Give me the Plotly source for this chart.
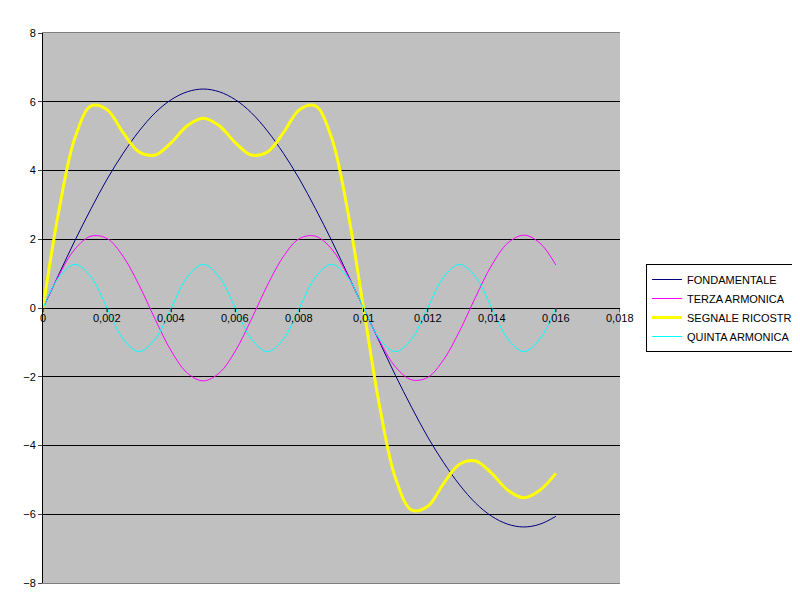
import plotly.graph_objects as go

t = [i * 0.0005 for i in range(33)]
fondamentale = [0,0.99,1.97,2.89,3.75,4.50,5.15,5.68,6.06,6.29,6.37,6.29,6.06,5.68,5.15,4.50,3.75,2.89,1.97,0.99,0,-0.99,-1.97,-2.89,-3.75,-4.50,-5.15,-5.68,-6.06,-6.29,-6.37,-6.29,-6.06]
terza = [0,0.96,1.72,2.09,2.02,1.50,0.66,-0.33,-1.25,-1.89,-2.12,-1.89,-1.25,-0.33,0.66,1.50,2.02,2.09,1.72,0.96,0,-0.96,-1.72,-2.09,-2.02,-1.50,-0.66,0.33,1.25,1.89,2.12,1.89,1.25]
segnale = [0,2.85,4.96,5.88,5.77,5.10,4.54,4.45,4.81,5.30,5.52,5.30,4.81,4.45,4.54,5.10,5.77,5.88,4.96,2.85,0,-2.85,-4.96,-5.88,-5.77,-5.10,-4.54,-4.45,-4.81,-5.30,-5.52,-5.30,-4.81]
quinta = [0,0.90,1.27,0.90,0,-0.90,-1.27,-0.90]*4 + [0]
xticks = [0,0.002,0.004,0.006,0.008,0.01,0.012,0.014,0.016,0.018]
xlabels = ["0","0,002","0,004","0,006","0,008","0,01","0,012","0,014","0,016","0,018"]

fig = go.Figure()
fig.add_trace(go.Scatter(x=t, y=fondamentale, name="FONDAMENTALE", mode="lines", line=dict(color="#000080", width=1, shape="spline")))
fig.add_trace(go.Scatter(x=t, y=terza, name="TERZA ARMONICA", mode="lines", line=dict(color="#FF00FF", width=1, shape="spline")))
fig.add_trace(go.Scatter(x=t, y=segnale, name="SEGNALE RICOSTRUITO", mode="lines", line=dict(color="#FFFF00", width=3, shape="spline")))
fig.add_trace(go.Scatter(x=t, y=quinta, name="QUINTA ARMONICA", mode="lines", line=dict(color="#00FFFF", width=1, shape="spline")))

for xv, lab in zip(xticks, xlabels):
    fig.add_annotation(x=xv, y=0, text=lab, showarrow=False, yanchor="top", yshift=-2,
                       font=dict(size=11, color="black"))
    fig.add_shape(type="line", x0=xv, x1=xv, y0=0, y1=-0.12, line=dict(color="black", width=1))

fig.update_layout(
    width=800, height=600, paper_bgcolor="white", plot_bgcolor="#C0C0C0",
    margin=dict(l=35, r=188, t=25, b=25, autoexpand=False),
    font=dict(family="Liberation Sans, Arial", size=11, color="black"),
    xaxis=dict(range=[0, 0.018], showgrid=False, showticklabels=False, zeroline=False,
               showline=True, linecolor="#808080", mirror=True),
    yaxis=dict(range=[-8, 8], dtick=2, showgrid=True, gridcolor="black", gridwidth=1,
               zeroline=True, zerolinecolor="black", zerolinewidth=1,
               showline=True, linecolor="black", mirror=False, ticks="outside", ticklen=4,
               tickfont=dict(size=11)),
    legend=dict(x=1.045, y=0.5, xanchor="left", yanchor="middle", bgcolor="white",
                bordercolor="black", borderwidth=1, font=dict(size=11), tracegroupgap=0),
    showlegend=True,
)
fig.write_html("out.html")
